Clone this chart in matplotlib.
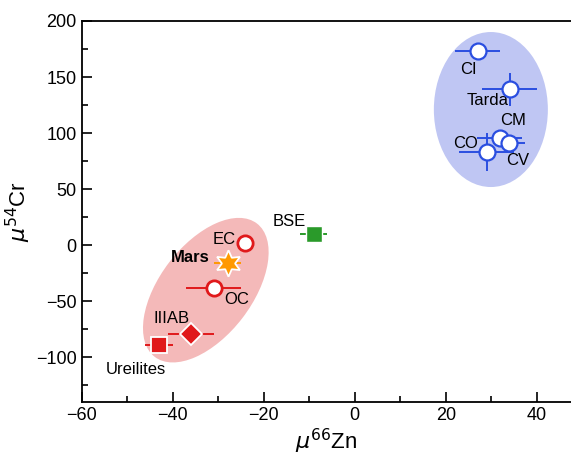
import matplotlib
matplotlib.use("Agg")
import matplotlib.pyplot as plt
from matplotlib.patches import Ellipse
from matplotlib.transforms import ScaledTranslation
from matplotlib.ticker import MultipleLocator

plt.rcParams['font.family'] = ['Liberation Sans', 'DejaVu Sans']

# carbonaceous chondrites (blue)
cc_names = ['CI', 'Tarda', 'CM', 'CO', 'CV']
cc_zn = [27.0, 34.0, 31.8, 29.0, 33.8]
cc_cr = [173.0, 139.0, 96.0, 83.0, 91.0]
cc_zn_err = [5.0, 6.0, 5.0, 6.0, 3.5]
cc_cr_err = [0.0, 15.0, 0.0, 17.0, 0.0]
cc_label_off = [(-9, -18), (-22, -11), (14, 17), (-21, 9), (9, -17)]

# non-carbonaceous
nc_names = ['EC', 'OC', 'IIIAB', 'Ureilites']
nc_zn = [-24.1, -31.0, -36.0, -43.0]
nc_cr = [2.0, -38.0, -79.5, -89.0]
nc_zn_err = [0.0, 6.0, 5.0, 3.0]
nc_markers = ['o', 'o', 'D', 's']
nc_label_off = [(-21, 3), (23, -12), (-19, 16), (-23, -25)]

mars_zn, mars_cr, mars_err = -27.9, -16.0, 3.0
bse_zn, bse_cr, bse_err = -9.0, 10.0, 3.0

blue = '#2a4ee0'
red = '#e0191b'
green = '#2a9a2a'
orange = '#ff9900'

fig = plt.figure(figsize=(5.71, 4.65), dpi=100)
ax = fig.add_axes([81.5/571, 1 - 402/465, (571 - 81.5)/571, (402 - 21)/465])
ax.set_xlim(-60, 47.5)
ax.set_ylim(-140, 200)

def pix_ellipse(cx, cy, wpx, hpx, angle, color):
    tr = fig.dpi_scale_trans + ScaledTranslation(cx, cy, ax.transData)
    e = Ellipse((0, 0), wpx/100, hpx/100, angle=angle, transform=tr,
                facecolor=color, edgecolor='none', zorder=0)
    ax.add_patch(e)

pix_ellipse(29.9, 121.0, 114, 155, 0, '#bfc6f3')
pix_ellipse(-32.7, -40.2, 168, 92, 52.5, '#f4b9b9')

for i in range(len(cc_names)):
    ax.errorbar(cc_zn[i], cc_cr[i], xerr=cc_zn_err[i],
                yerr=cc_cr_err[i] if cc_cr_err[i] > 0 else None,
                fmt='o', ms=11.5, mfc='white', mec=blue, mew=1.6,
                ecolor=blue, elinewidth=1.4, capsize=0, zorder=3)
    ax.annotate(cc_names[i], (cc_zn[i], cc_cr[i]), xytext=cc_label_off[i],
                textcoords='offset pixels', ha='center', va='center', fontsize=12)

for i in range(len(nc_names)):
    m = nc_markers[i]
    if m == 'o':
        kw = dict(mfc='white', mec=red, mew=2.0, ms=11)
    elif m == 'D':
        kw = dict(mfc=red, mec='white', mew=1.3, ms=11)
    else:
        kw = dict(mfc=red, mec='white', mew=1.3, ms=12)
    ax.errorbar(nc_zn[i], nc_cr[i], xerr=nc_zn_err[i] if nc_zn_err[i] > 0 else None,
                fmt=m, ecolor=red, elinewidth=1.4, capsize=0, zorder=3, **kw)
    ax.annotate(nc_names[i], (nc_zn[i], nc_cr[i]), xytext=nc_label_off[i],
                textcoords='offset pixels', ha='center', va='center', fontsize=12)

ax.errorbar(mars_zn, mars_cr, xerr=mars_err, fmt='none', ecolor=orange,
            elinewidth=1.4, capsize=0, zorder=3)
ax.plot(mars_zn, mars_cr, marker=(6, 1, 0), ms=19, mfc=orange, mec='white',
        mew=1.3, ls='none', zorder=4)
ax.annotate('Mars', (mars_zn, mars_cr), xytext=(-37, 6), textcoords='offset pixels',
            ha='center', va='center', fontsize=12, fontweight='bold')

ax.errorbar(bse_zn, bse_cr, xerr=bse_err, fmt='s', ms=11, mfc=green, mec='white',
            mew=1.0, ecolor=green, elinewidth=1.4, capsize=0, zorder=3)
ax.annotate('BSE', (bse_zn, bse_cr), xytext=(-24, 12), textcoords='offset pixels',
            ha='center', va='center', fontsize=12)

ax.spines['right'].set_visible(False)
for s in ['left', 'bottom', 'top']:
    ax.spines[s].set_linewidth(1.3)
ax.xaxis.set_major_locator(MultipleLocator(20))
ax.xaxis.set_minor_locator(MultipleLocator(10))
ax.yaxis.set_major_locator(MultipleLocator(50))
ax.yaxis.set_minor_locator(MultipleLocator(25))
ax.tick_params(which='both', direction='in', top=False, right=False, labelsize=13, width=1.2)
ax.tick_params(which='major', length=7)
ax.tick_params(which='minor', length=4.5)
ax.set_xlabel(r'$\mu^{66}$Zn', fontsize=16, labelpad=2)
ax.set_ylabel(r'$\mu^{54}$Cr', fontsize=16, labelpad=2)

fig.savefig('out.png', dpi=100)
